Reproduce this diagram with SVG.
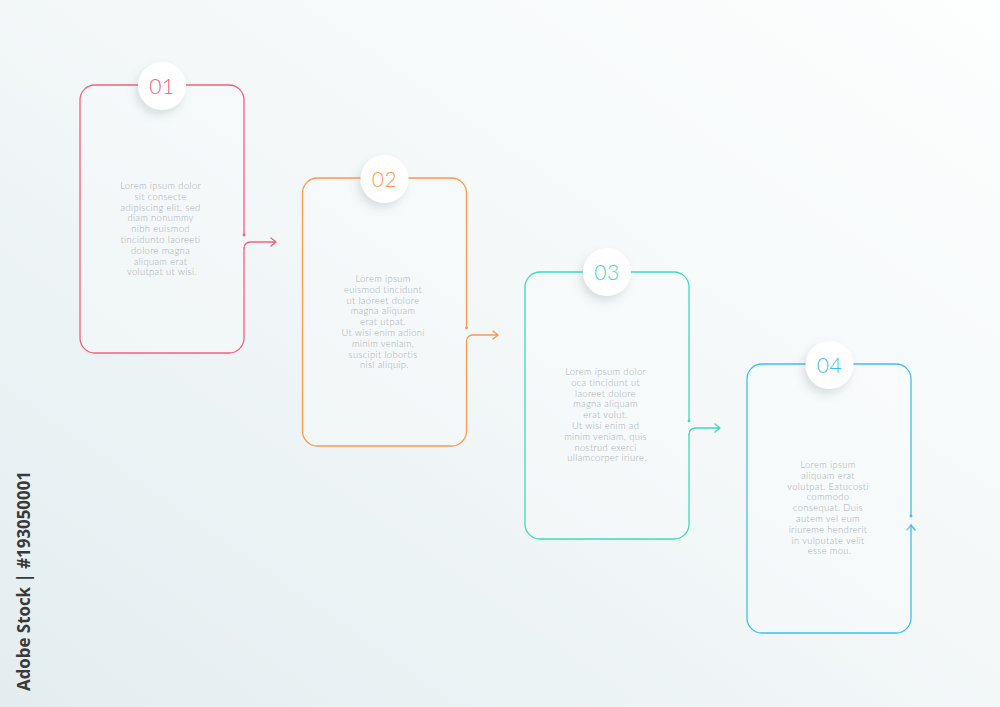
<svg xmlns="http://www.w3.org/2000/svg" width="1000" height="707" viewBox="0 0 1000 707">
<defs>
<linearGradient id="bg" x1="1" y1="0" x2="0" y2="1">
<stop offset="0" stop-color="#fdfefe"/>
<stop offset="0.45" stop-color="#f4f8f9"/>
<stop offset="1" stop-color="#e3edf0"/>
</linearGradient>
<filter id="sh" x="-50%" y="-50%" width="200%" height="200%">
<feDropShadow dx="-3" dy="5" stdDeviation="4" flood-color="#6a7f88" flood-opacity="0.22"/>
</filter>
</defs>
<style>
.box{fill:#ffffff;fill-opacity:0.25;stroke-width:1.3;stroke-linecap:round;stroke-linejoin:round}
.arr{fill:none;stroke-width:1.3;stroke-linecap:round;stroke-linejoin:round}
.disc{fill:#ffffff;filter:url(#sh)}
.num{font-family:Lato,"Liberation Sans",sans-serif;font-weight:300;font-size:21px;text-anchor:middle;letter-spacing:0.5px}
.body{font-family:Lato,"Liberation Sans",sans-serif;font-weight:300;font-size:9.4px;fill:#a9aeb2;text-anchor:middle;letter-spacing:0.35px}
.c1{stroke:#f2607a}.f1{fill:#f2607a}
.c2{stroke:#f99a4a}.f2{fill:#f99a4a}
.c3{stroke:#3ddbb8}.f3{fill:#3ddbb8}
.c4{stroke:#3fbdf0}.f4{fill:#3fbdf0}
</style>
<rect width="1000" height="707" fill="url(#bg)"/>

<g id="connectors">
<path class="arr c1" d="M244,248 A6,6 0 0 1 250,242 H276 M271,238 L276,242 L271,246"/>
<path class="arr c2" d="M466.5,341 A6,6 0 0 1 472.5,335 H498 M493,331 L498,335 L493,339"/>
<path class="arr c3" d="M689,434 A6,6 0 0 1 695,428 H720 M715,424 L720,428 L715,432"/>
<path class="arr c4" d="M907,530 L911,525 L915,530"/>
</g>

<g id="step1">
<path class="box c1" d="M244,235 V100 A15,15 0 0 0 229,85 H95 A15,15 0 0 0 80,100 V338 A15,15 0 0 0 95,353 H229 A15,15 0 0 0 244,338 V248"/>
<circle class="f1" cx="244" cy="235" r="1.4"/>
<circle class="disc" cx="162" cy="86" r="24"/>
<text class="num f1" x="162" y="93.5">01</text>
<text class="body">
<tspan x="162" y="189">Lorem ipsum dolor</tspan>
<tspan x="162" y="199.8">sit consecte</tspan>
<tspan x="162" y="210.6">adipiscing elit, sed</tspan>
<tspan x="162" y="221.4">diam nonummy</tspan>
<tspan x="162" y="232.2">nibh euismod</tspan>
<tspan x="162" y="243">tincidunto laoreeti</tspan>
<tspan x="162" y="253.8">dolore magna</tspan>
<tspan x="162" y="264.6">aliquam erat</tspan>
<tspan x="162" y="275.4">volutpat ut wisi.</tspan>
</text>
</g>

<g id="step2">
<path class="box c2" d="M466.5,328 V193 A15,15 0 0 0 451.5,178 H317.5 A15,15 0 0 0 302.5,193 V431 A15,15 0 0 0 317.5,446 H451.5 A15,15 0 0 0 466.5,431 V341"/>
<circle class="f2" cx="466.5" cy="328" r="1.4"/>
<circle class="disc" cx="384.5" cy="179" r="24"/>
<text class="num f2" x="384.5" y="186.5">02</text>
<text class="body">
<tspan x="384.5" y="282">Lorem ipsum</tspan>
<tspan x="384.5" y="292.8">euismod tincidunt</tspan>
<tspan x="384.5" y="303.6">ut laoreet dolore</tspan>
<tspan x="384.5" y="314.4">magna aliquam</tspan>
<tspan x="384.5" y="325.2">erat utpat.</tspan>
<tspan x="384.5" y="336">Ut wisi enim adioni</tspan>
<tspan x="384.5" y="346.8">minim veniam,</tspan>
<tspan x="384.5" y="357.6">suscipit lobortis</tspan>
<tspan x="384.5" y="368.4">nisl aliquip.</tspan>
</text>
</g>

<g id="step3">
<path class="box c3" d="M689,421 V287 A15,15 0 0 0 674,272 H540 A15,15 0 0 0 525,287 V524 A15,15 0 0 0 540,539 H674 A15,15 0 0 0 689,524 V434"/>
<circle class="f3" cx="689" cy="421" r="1.4"/>
<circle class="disc" cx="607" cy="272" r="24"/>
<text class="num f3" x="607" y="279.5">03</text>
<text class="body">
<tspan x="607" y="375">Lorem ipsum dolor</tspan>
<tspan x="607" y="385.8">oca tincidunt ut</tspan>
<tspan x="607" y="396.6">laoreet dolore</tspan>
<tspan x="607" y="407.4">magna aliquam</tspan>
<tspan x="607" y="418.2">erat volut.</tspan>
<tspan x="607" y="429">Ut wisi enim ad</tspan>
<tspan x="607" y="439.8">minim veniam, quis</tspan>
<tspan x="607" y="450.6">nostrud exerci</tspan>
<tspan x="607" y="461.4">ullamcorper iriure.</tspan>
</text>
</g>

<g id="step4">
<path class="box c4" d="M911,516 V379 A15,15 0 0 0 896,364 H762 A15,15 0 0 0 747,379 V618 A15,15 0 0 0 762,633 H896 A15,15 0 0 0 911,618 V525"/>
<circle class="f4" cx="911" cy="516" r="1.4"/>
<circle class="disc" cx="829.5" cy="365" r="24"/>
<text class="num f4" x="829.5" y="372.5">04</text>
<text class="body">
<tspan x="829.5" y="468">Lorem ipsum</tspan>
<tspan x="829.5" y="478.8">aliquam erat</tspan>
<tspan x="829.5" y="489.6">volutpat. Eatucosti</tspan>
<tspan x="829.5" y="500.4">commodo</tspan>
<tspan x="829.5" y="511.2">consequat. Duis</tspan>
<tspan x="829.5" y="522">autem vel eum</tspan>
<tspan x="829.5" y="532.8">iriureme hendrerit</tspan>
<tspan x="829.5" y="543.6">in vulputate velit</tspan>
<tspan x="829.5" y="554.4">esse mou.</tspan>
</text>
</g>

<text transform="translate(30,691) rotate(-90)" font-family="'Open Sans','Liberation Sans',sans-serif" font-weight="bold" font-size="17" fill="#3a3a3a" textLength="220" lengthAdjust="spacingAndGlyphs">Adobe Stock | #193050001</text>
</svg>
